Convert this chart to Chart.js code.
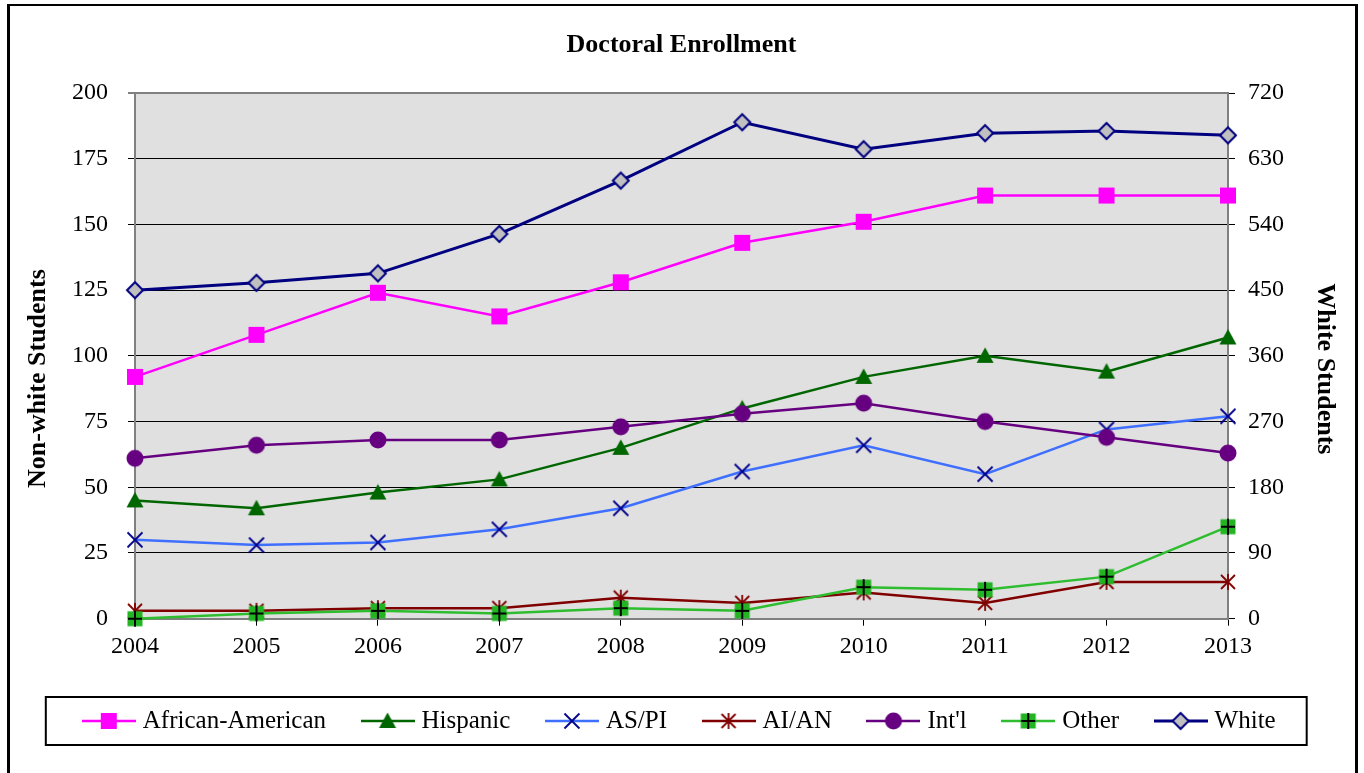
<!DOCTYPE html>
<html>
<head>
<meta charset="utf-8">
<script src="https://cdn.jsdelivr.net/npm/chart.js@4.4.1/dist/chart.umd.min.js"></script>
<style>
  html, body { margin: 0; padding: 0; background: #fff; }
  #wrap { position: relative; width: 1364px; height: 773px; overflow: hidden; }
  #frame { position: absolute; left: 7px; top: 4px; width: 1351px; height: 820px;
           border-left: 3px solid #000; border-top: 2px solid #000; border-right: 3px solid #000;
           box-sizing: border-box; }
  #c { position: absolute; left: 0; top: 0; }
</style>
</head>
<body>
<div id="wrap">
  <div id="frame"></div>
  <canvas id="c" width="1364" height="773"></canvas>
</div>
<script>
// ---------------- DATA ----------------
const years = ['2004', '2005', '2006', '2007', '2008', '2009', '2010', '2011', '2012', '2013'];
const africanAmerican = [92, 108, 124, 115, 128, 143, 151, 161, 161, 161];
const hispanic        = [45, 42, 48, 53, 65, 80, 92, 100, 94, 107];
const asianPacific    = [30, 28, 29, 34, 42, 56, 66, 55, 72, 77];
const amerIndian      = [3, 3, 4, 4, 8, 6, 10, 6, 14, 14];
const international   = [61, 66, 68, 68, 73, 78, 82, 75, 69, 63];
const otherStudents   = [0, 2, 3, 2, 4, 3, 12, 11, 16, 35];
const whiteStudents   = [450, 460, 473, 527, 600, 680, 643, 665, 668, 662];

const seriesNames = ['African-American', 'Hispanic', 'AS/PI', 'AI/AN', "Int'l", 'Other', 'White'];
const leftAxis  = { min: 0, max: 200, step: 25 };
const rightAxis = { min: 0, max: 720, step: 90 };
const chartTitle = 'Doctoral Enrollment';
const leftTitle  = 'Non-white Students';
const rightTitle = 'White Students';

// ---------------- STYLE ----------------
const FONT = "'Times New Roman', 'Liberation Serif', serif";
Chart.defaults.font.family = FONT;
Chart.defaults.color = '#000';

const styles = [
  { line: '#FF00FF', width: 2.5, marker: 'square' },
  { line: '#006600', width: 2.5, marker: 'triangle' },
  { line: '#3F6FFF', width: 2.5, marker: 'x' },
  { line: '#800000', width: 2.5, marker: 'star' },
  { line: '#660080', width: 2.5, marker: 'circle' },
  { line: '#2EBD2E', width: 2.5, marker: 'plusSquare' },
  { line: '#000080', width: 3,   marker: 'diamond' }
];

function drawMarker(g, kind, x, y) {
  g.save();
  g.lineCap = 'butt';
  switch (kind) {
    case 'square':
      g.fillStyle = '#FF00FF'; g.fillRect(x - 8, y - 8, 16, 16); break;
    case 'triangle':
      g.fillStyle = '#006600'; g.beginPath();
      g.moveTo(x, y - 8.5); g.lineTo(x + 8.5, y + 7); g.lineTo(x - 8.5, y + 7); g.closePath(); g.fill(); break;
    case 'x':
      g.strokeStyle = '#00008B'; g.lineWidth = 1.8; g.beginPath();
      g.moveTo(x - 7.5, y - 7.5); g.lineTo(x + 7.5, y + 7.5); g.moveTo(x + 7.5, y - 7.5); g.lineTo(x - 7.5, y + 7.5); g.stroke(); break;
    case 'star':
      g.strokeStyle = '#800000'; g.lineWidth = 1.8; g.beginPath();
      g.moveTo(x - 7, y - 7); g.lineTo(x + 7, y + 7); g.moveTo(x + 7, y - 7); g.lineTo(x - 7, y + 7);
      g.moveTo(x, y - 8); g.lineTo(x, y + 8); g.stroke(); break;
    case 'circle':
      g.fillStyle = '#660080'; g.beginPath(); g.arc(x, y, 8.5, 0, Math.PI * 2); g.fill(); break;
    case 'plusSquare':
      g.fillStyle = '#22B422'; g.fillRect(x - 7.5, y - 7.5, 15, 15);
      g.strokeStyle = '#000'; g.lineWidth = 2; g.beginPath();
      g.moveTo(x - 7, y); g.lineTo(x + 7, y); g.moveTo(x, y - 8); g.lineTo(x, y + 8); g.stroke(); break;
    case 'diamond':
      g.fillStyle = '#C0C0C0'; g.strokeStyle = '#000080'; g.lineWidth = 2; g.beginPath();
      g.moveTo(x, y - 8); g.lineTo(x + 8, y); g.lineTo(x, y + 8); g.lineTo(x - 8, y); g.closePath();
      g.fill(); g.stroke(); break;
  }
  g.restore();
}

function pointImage(kind) {
  const cv = document.createElement('canvas'); cv.width = 22; cv.height = 22;
  drawMarker(cv.getContext('2d'), kind, 11, 11);
  return cv;
}
function legendImage(st) {
  const cv = document.createElement('canvas'); cv.width = 54; cv.height = 22;
  const g = cv.getContext('2d');
  g.strokeStyle = st.line; g.lineWidth = st.width; g.beginPath();
  g.moveTo(0, 11); g.lineTo(54, 11); g.stroke();
  drawMarker(g, st.marker, 27, 11);
  return cv;
}

const seriesData = [africanAmerican, hispanic, asianPacific, amerIndian, international, otherStudents, whiteStudents];
const datasets = seriesData.map((d, i) => ({
  label: seriesNames[i],
  data: d,
  yAxisID: i === 6 ? 'y1' : 'y',
  borderColor: styles[i].line,
  backgroundColor: styles[i].line,
  borderWidth: styles[i].width,
  pointStyle: pointImage(styles[i].marker),
  pointRadius: 8,
  pointHoverRadius: 8,
  tension: 0,
  clip: false,
  order: 7 - i
}));

const legendImgs = styles.map(legendImage);

const plotBg = {
  id: 'plotBg',
  beforeDraw(chart) {
    const { ctx, chartArea: a } = chart;
    ctx.save(); ctx.fillStyle = '#E0E0E0';
    ctx.fillRect(a.left, a.top, a.right - a.left, a.bottom - a.top);
    ctx.restore();
  }
};
const legendBox = {
  id: 'legendBox',
  afterDraw(chart) {
    const hb = chart.legend.legendHitBoxes;
    if (!hb || !hb.length) return;
    const first = hb[0], last = hb[hb.length - 1];
    const ctx = chart.ctx;
    const mid = first.top + first.height / 2;
    const l = first.left - 41.5, r = last.left + last.width + 31;
    const t = mid - 24, b = mid + 24;
    ctx.save(); ctx.strokeStyle = '#000'; ctx.lineWidth = 2;
    ctx.strokeRect(l, t, r - l, b - t);
    ctx.restore();
  }
};

const gridColor = (c) => (c.tick && (c.tick.value === leftAxis.max || c.tick.value === leftAxis.min)) ? '#808080' : '#000';
const gridWidth = (c) => (c.tick && (c.tick.value === leftAxis.max || c.tick.value === leftAxis.min)) ? 2 : 1;
const NB = '\u00A0';

new Chart(document.getElementById('c'), {
  type: 'line',
  data: { labels: years, datasets },
  options: {
    responsive: false,
    animation: false,
    devicePixelRatio: 1,
    layout: { padding: { left: 25, right: 26, top: 0, bottom: 29.5 } },
    plugins: {
      title: {
        display: true, text: chartTitle, color: '#000',
        font: { size: 26, weight: 'bold', family: FONT },
        padding: { top: 29.4, bottom: 32.4 }
      },
      legend: {
        display: true, position: 'bottom',
        labels: {
          usePointStyle: true, pointStyleWidth: 43, padding: 40,
          color: '#000', font: { size: 25, family: FONT },
          generateLabels: (chart) => chart.data.datasets.map((ds, i) => ({
            text: ds.label, pointStyle: legendImgs[i], fillStyle: ds.borderColor,
            strokeStyle: ds.borderColor, lineWidth: 0, hidden: false, datasetIndex: i, fontColor: '#000'
          }))
        }
      },
      tooltip: { enabled: false }
    },
    scales: {
      x: {
        type: 'category', offset: false,
        grid: { drawOnChartArea: false, drawTicks: true, tickLength: 7, tickColor: '#000', tickWidth: 1 },
        border: { color: '#808080', width: 2 },
        ticks: { font: { size: 24, family: FONT }, color: '#000', padding: 7, maxRotation: 0, autoSkip: false }
      },
      y: {
        position: 'left', min: leftAxis.min, max: leftAxis.max,
        ticks: { stepSize: leftAxis.step, font: { size: 24, family: FONT }, color: '#000', padding: 20 },
        grid: { color: gridColor, lineWidth: gridWidth, tickLength: 7, tickColor: '#000', tickWidth: 1 },
        border: { color: '#808080', width: 2 },
        title: { display: true, text: leftTitle + NB.repeat(7), color: '#000',
                 font: { size: 26, weight: 'bold', family: FONT, lineHeight: 1 }, padding: { top: 0, bottom: 1 } }
      },
      y1: {
        position: 'right', min: rightAxis.min, max: rightAxis.max,
        ticks: { stepSize: rightAxis.step, font: { size: 24, family: FONT }, color: '#000', padding: 13 },
        grid: { drawOnChartArea: false, tickLength: 7, tickColor: '#000', tickWidth: 1 },
        border: { color: '#808080', width: 2 },
        title: { display: true, text: NB.repeat(4) + rightTitle, color: '#000',
                 font: { size: 26, weight: 'bold', family: FONT, lineHeight: 1 }, padding: { top: 0, bottom: 15 } }
      }
    }
  },
  plugins: [plotBg, legendBox]
});
</script>
</body>
</html>
